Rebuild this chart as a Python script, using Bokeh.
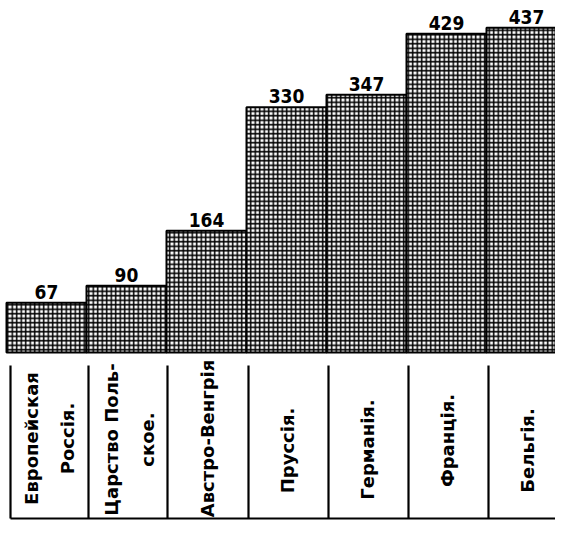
import math
from bokeh.plotting import figure
from bokeh.models import ColumnDataSource, Range1d
from bokeh.core.properties import value
from bokeh.embed import file_html
from bokeh.resources import INLINE

# ---- data ----
countries = ["Европейская Россія.", "Царство Польское.", "Австро-Венгрія",
             "Пруссія.", "Германія.", "Франція.", "Бельгія."]
label_lines = [["Европейская", "Россія."], ["Царство Поль-", "ское."],
               ["Австро-Венгрія"], ["Пруссія."], ["Германія."],
               ["Франція."], ["Бельгія."]]
values = [67, 90, 164, 330, 347, 429, 437]

# ---- geometry helpers (pixel layout) ----
W, H = 555, 520
PX_PER_UNIT_Y = 0.743
BASE_Y = 352          # pixel row of the bars' baseline
y_top = BASE_Y / PX_PER_UNIT_Y
y_bot = -(H - BASE_Y) / PX_PER_UNIT_Y
X0, X_UNIT = 6.0, 80.0
x_left = -X0 / X_UNIT
x_right = x_left + W / X_UNIT


def ydata(py):
    return (BASE_Y - py) / PX_PER_UNIT_Y


def xdata(px):
    return (px - X0) / X_UNIT


p = figure(width=W, height=H, output_backend="svg", toolbar_location=None,
           x_range=Range1d(x_left, x_right), y_range=Range1d(y_bot, y_top),
           min_border=0, min_border_left=0, min_border_right=0,
           min_border_top=0, min_border_bottom=0)
p.axis.visible = False
p.grid.visible = False
p.outline_line_color = None
p.background_fill_color = "white"
p.border_fill_color = "white"

n = len(values)
src = ColumnDataSource(dict(x=[i + 0.5 for i in range(n)], top=values,
                            label=[str(v) for v in values]))
p.vbar(x="x", top="top", bottom=0, width=1.0, source=src,
       fill_color="white", line_color="black", line_width=2,
       hatch_pattern="+", hatch_color="black", hatch_scale=4.5,
       hatch_weight=1.5)

# value labels
p.text(x="x", y="top", text="label", source=src,
       text_font=value("DejaVu Sans Condensed"), text_font_style="bold",
       text_font_size="19px", text_align="center", text_baseline="bottom",
       y_offset=-4, text_color="black")

# separator lines in label area
sep_px = [10, 88, 167, 248, 328, 408, 488]
sep_x = [xdata(v) for v in sep_px]
p.segment(x0=sep_x, y0=[ydata(365)] * n, x1=sep_x, y1=[ydata(518)] * n,
          line_color="black", line_width=2.2)
# bottom rule
p.segment(x0=[xdata(10)], y0=[ydata(518)], x1=[xdata(563)], y1=[ydata(518)],
          line_color="black", line_width=2)

# category labels (rotated)
line_pos = {0: [31, 67], 1: [111, 147]}
centers_y = [438, 439, 438, 450, 449, 440, 450]
lx, ly, lt = [], [], []
for i, lines in enumerate(label_lines):
    if len(lines) == 1:
        xs = [X0 + X_UNIT * (i + 0.5) + 1]
    else:
        xs = line_pos[i]
    for xx, t in zip(xs, lines):
        lx.append(xdata(xx))
        ly.append(ydata(centers_y[i]))
        lt.append(t)
p.text(x=lx, y=ly, text=lt, angle=math.pi / 2,
       text_font=value("DejaVu Sans"), text_font_style="bold",
       text_font_size="18px", text_align="center", text_baseline="middle",
       text_color="black")

open("out.html", "w").write(file_html(p, INLINE))
